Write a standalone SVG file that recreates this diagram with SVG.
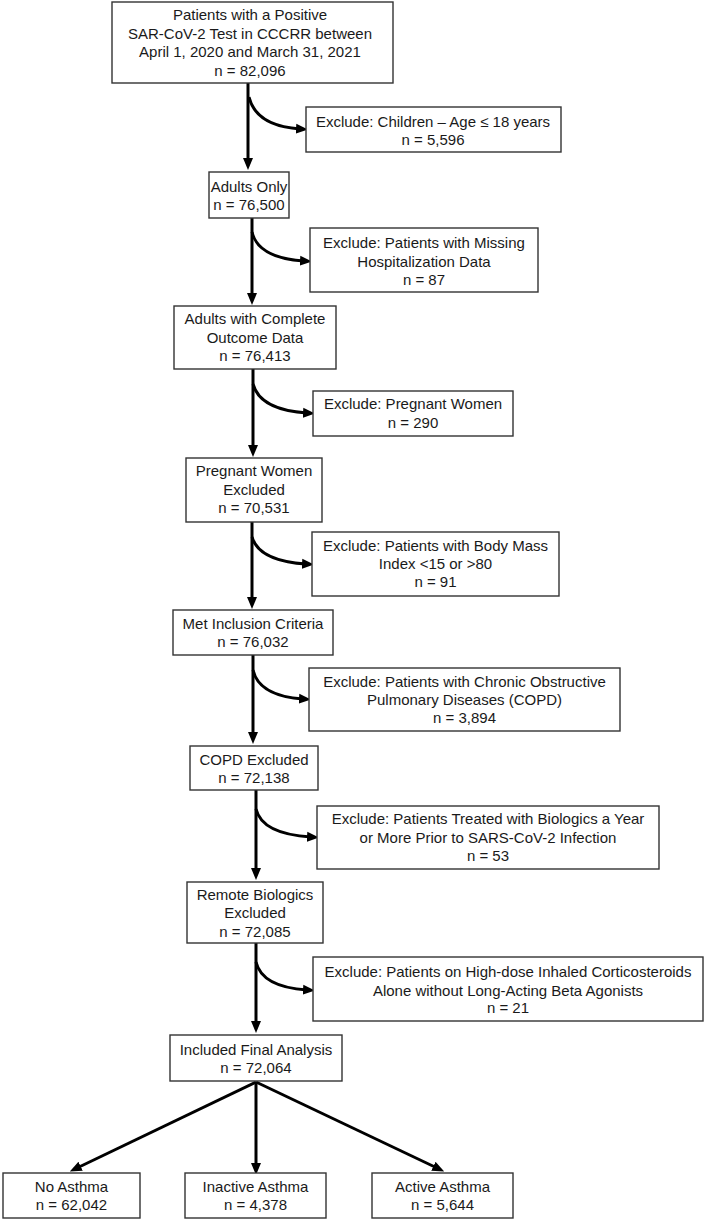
<svg xmlns="http://www.w3.org/2000/svg" width="715" height="1220" viewBox="0 0 715 1220">
<style>
  .box{fill:#fff;stroke:#333;stroke-width:1.4}
  text{font-family:"Liberation Sans",Arial,sans-serif;font-size:15px;fill:#1a1a1a;text-anchor:middle}
  .c{fill:none;stroke:#000;stroke-width:3}
</style>
<defs>
  <marker id="ah" markerUnits="userSpaceOnUse" markerWidth="12" markerHeight="12" viewBox="0 0 12 12" refX="4" refY="6" orient="auto">
    <path d="M0,1 L12,6 L0,11 z" fill="#000"/>
  </marker>
</defs>
<rect width="715" height="1220" fill="#fff"/>
<g id="connectors">
  <path class="c" d="M248,83 V162" marker-end="url(#ah)"/>
  <path class="c" d="M249,97 Q256,126 300,129" marker-end="url(#ah)"/>
  <path class="c" d="M252,218 V297" marker-end="url(#ah)"/>
  <path class="c" d="M252,232 Q258,258 304,261" marker-end="url(#ah)"/>
  <path class="c" d="M253,369 V449" marker-end="url(#ah)"/>
  <path class="c" d="M253,384 Q260,410 307,413" marker-end="url(#ah)"/>
  <path class="c" d="M252,522 V601" marker-end="url(#ah)"/>
  <path class="c" d="M252,537 Q259,561 306,564" marker-end="url(#ah)"/>
  <path class="c" d="M253,655 V736" marker-end="url(#ah)"/>
  <path class="c" d="M253,670 Q259,696 303,699" marker-end="url(#ah)"/>
  <path class="c" d="M256,790 V872" marker-end="url(#ah)"/>
  <path class="c" d="M256,809 Q262,834 311,837" marker-end="url(#ah)"/>
  <path class="c" d="M256,943 V1025" marker-end="url(#ah)"/>
  <path class="c" d="M256,962 Q262,987 307,990" marker-end="url(#ah)"/>
  <path class="c" d="M256,1082 L77,1168" marker-end="url(#ah)"/>
  <path class="c" d="M256,1082 V1167" marker-end="url(#ah)"/>
  <path class="c" d="M256,1082 L437,1168" marker-end="url(#ah)"/>
</g>
<g id="n1"><rect class="box" x="112" y="2" width="281" height="81"/>
  <text x="250" y="20">Patients with a Positive</text>
  <text x="250" y="38.5">SAR-CoV-2 Test in CCCRR between</text>
  <text x="250" y="57">April 1, 2020 and March 31, 2021</text>
  <text x="250" y="75.5">n = 82,096</text></g>
<g id="e1"><rect class="box" x="306" y="107" width="255" height="45"/>
  <text x="433" y="127">Exclude: Children – Age ≤ 18 years</text>
  <text x="433" y="145">n = 5,596</text></g>
<g id="n2"><rect class="box" x="209" y="172" width="80" height="46"/>
  <text x="249" y="192">Adults Only</text>
  <text x="249" y="210">n = 76,500</text></g>
<g id="e2"><rect class="box" x="310" y="228" width="228" height="64"/>
  <text x="424" y="248">Exclude: Patients with Missing</text>
  <text x="424" y="266.5">Hospitalization Data</text>
  <text x="424" y="285">n = 87</text></g>
<g id="n3"><rect class="box" x="174" y="306" width="162" height="63"/>
  <text x="255" y="324">Adults with Complete</text>
  <text x="255" y="342.5">Outcome Data</text>
  <text x="255" y="361">n = 76,413</text></g>
<g id="e3"><rect class="box" x="313" y="391" width="200" height="45"/>
  <text x="413" y="409">Exclude: Pregnant Women</text>
  <text x="413" y="427.5">n = 290</text></g>
<g id="n4"><rect class="box" x="186" y="458" width="136" height="64"/>
  <text x="254" y="476">Pregnant Women</text>
  <text x="254" y="494.5">Excluded</text>
  <text x="254" y="513">n = 70,531</text></g>
<g id="e4"><rect class="box" x="312" y="532" width="247" height="64"/>
  <text x="435.5" y="551">Exclude: Patients with Body Mass</text>
  <text x="435.5" y="569">Index &lt;15 or &gt;80</text>
  <text x="435.5" y="587">n = 91</text></g>
<g id="n5"><rect class="box" x="173" y="610" width="160" height="45"/>
  <text x="253" y="629">Met Inclusion Criteria</text>
  <text x="253" y="647">n = 76,032</text></g>
<g id="e5"><rect class="box" x="309" y="668" width="311" height="63"/>
  <text x="464.5" y="687">Exclude: Patients with Chronic Obstructive</text>
  <text x="464.5" y="705">Pulmonary Diseases (COPD)</text>
  <text x="464.5" y="723">n = 3,894</text></g>
<g id="n6"><rect class="box" x="190" y="746" width="128" height="44"/>
  <text x="254" y="765">COPD Excluded</text>
  <text x="254" y="783">n = 72,138</text></g>
<g id="e6"><rect class="box" x="317" y="806" width="342" height="63"/>
  <text x="488" y="824">Exclude: Patients Treated with Biologics a Year</text>
  <text x="488" y="843">or More Prior to SARS-CoV-2 Infection</text>
  <text x="488" y="861">n = 53</text></g>
<g id="n7"><rect class="box" x="187" y="882" width="136" height="61"/>
  <text x="255" y="900">Remote Biologics</text>
  <text x="255" y="918">Excluded</text>
  <text x="255" y="937">n = 72,085</text></g>
<g id="e7"><rect class="box" x="313" y="957" width="390" height="64"/>
  <text x="508" y="977">Exclude: Patients on High-dose Inhaled Corticosteroids</text>
  <text x="508" y="995.5">Alone without Long-Acting Beta Agonists</text>
  <text x="508" y="1013">n = 21</text></g>
<g id="n8"><rect class="box" x="170" y="1035" width="172" height="46"/>
  <text x="256" y="1055">Included Final Analysis</text>
  <text x="256" y="1073">n = 72,064</text></g>
<g id="n9"><rect class="box" x="3" y="1173" width="137" height="45"/>
  <text x="71.5" y="1192">No Asthma</text>
  <text x="71.5" y="1210">n = 62,042</text></g>
<g id="n10"><rect class="box" x="185" y="1173" width="141" height="45"/>
  <text x="255.5" y="1192">Inactive Asthma</text>
  <text x="255.5" y="1210">n = 4,378</text></g>
<g id="n11"><rect class="box" x="372" y="1173" width="141" height="45"/>
  <text x="442.5" y="1192">Active Asthma</text>
  <text x="442.5" y="1210">n = 5,644</text></g>
</svg>
